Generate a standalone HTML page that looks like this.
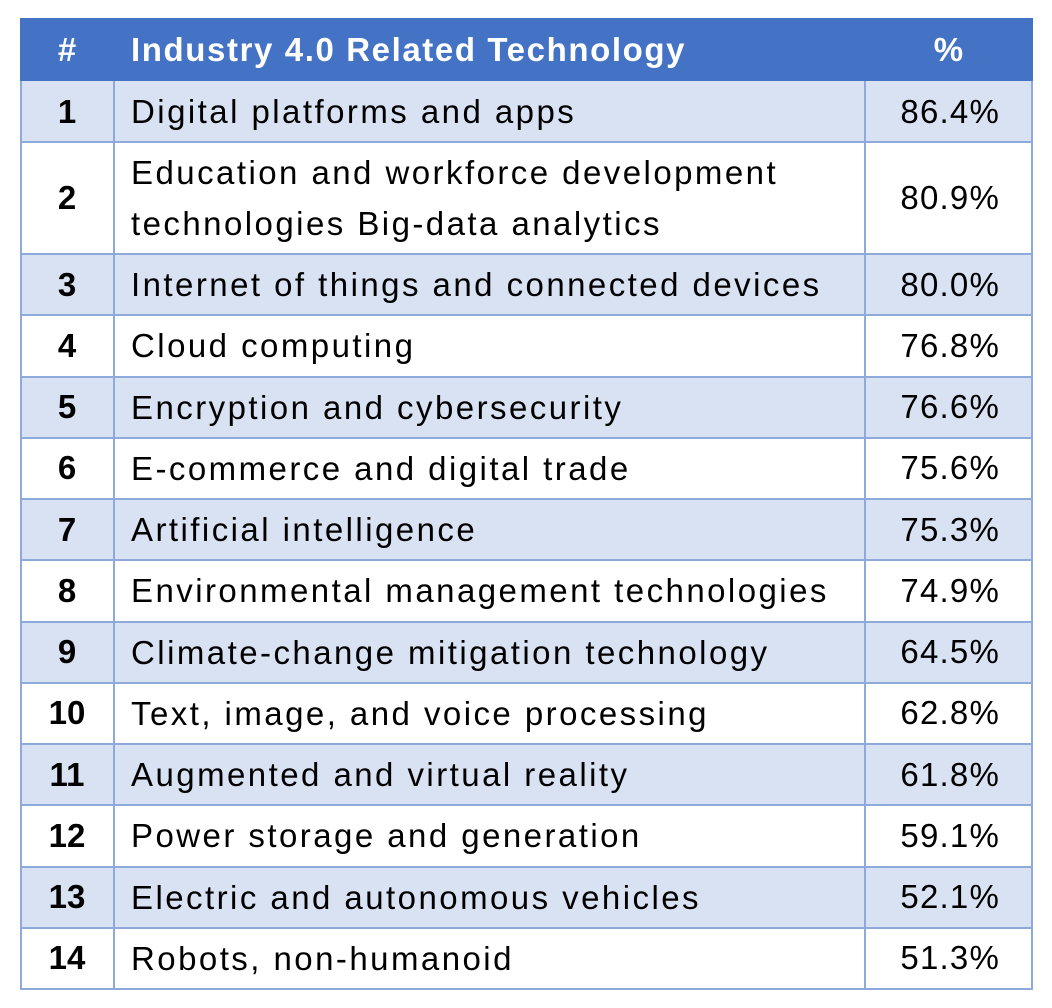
<!DOCTYPE html>
<html><head><meta charset="utf-8"><style>
body{margin:0;width:1052px;height:1008px;background:#fff;position:relative;font-family:"Liberation Sans",sans-serif;overflow:hidden}
.r{position:absolute;left:20px;width:1013px;box-sizing:border-box}
.c{position:absolute;top:0;bottom:0;display:flex;align-items:center;box-sizing:border-box;font-size:33px;color:#000;letter-spacing:2.45px}
.n{left:0;width:94px;justify-content:center;font-weight:bold;letter-spacing:0}
.t{left:94px;width:751px;padding-left:17px;line-height:51px;white-space:pre-line}
.p{left:845px;width:168px;justify-content:flex-end;padding-right:33px;letter-spacing:1.2px}
.band{background:#D9E2F3}
.hd{background:#4472C4}
.hd .c{color:#fff;font-weight:bold}
.hd .t{letter-spacing:1.6px}
.line{position:absolute;background:#8EAADB}
</style></head><body>
<div id="tbl"></div>
<script>
const ranks=[1,2,3,4,5,6,7,8,9,10,11,12,13,14];
const techs=["Digital platforms and apps","Education and workforce development\ntechnologies Big-data analytics","Internet of things and connected devices","Cloud computing","Encryption and cybersecurity","E-commerce and digital trade","Artificial intelligence","Environmental management technologies","Climate-change mitigation technology","Text, image, and voice processing","Augmented and virtual reality","Power storage and generation","Electric and autonomous vehicles","Robots, non-humanoid"];
const pcts=["86.4%","80.9%","80.0%","76.8%","76.6%","75.6%","75.3%","74.9%","64.5%","62.8%","61.8%","59.1%","52.1%","51.3%"];
const tbl=document.getElementById('tbl');
function mk(cls,top,h){const d=document.createElement('div');d.className='r '+cls;d.style.top=top+'px';d.style.height=h+'px';return d;}
function cell(row,cls,txt){const c=document.createElement('div');c.className='c '+cls;c.textContent=txt;row.appendChild(c);return c;}
const hdr=mk('hd',18,63);


cell(hdr,'n','#');
const ht=cell(hdr,'t','Industry 4.0 Related Technology');

const hp=cell(hdr,'p','%');hp.style.justifyContent='center';hp.style.paddingRight='0';

tbl.appendChild(hdr);
let y=81;const bottom=989;
const rest=(bottom-254)/12;
const lines=[];
for(let i=0;i<ranks.length;i++){
  const h=i===0?61:(i===1?112:rest);
  const row=mk(i%2===0?'band':'',y,h);
  
  
  const a=cell(row,'n',ranks[i]);
  const b=cell(row,'t',techs[i]);
  const c=cell(row,'p',pcts[i]);
  tbl.appendChild(row);
  y+=h;lines.push(y);
}
function ln(x,yy,w,h){const l=document.createElement('div');l.className='line';l.style.left=x+'px';l.style.top=yy+'px';l.style.width=w+'px';l.style.height=h+'px';


tbl.appendChild(l);}
ln(20,81,2,909);ln(1031,81,2,909);ln(113,81,2,909);ln(864,81,2,909);
lines.forEach(v=>ln(20,Math.round(v)-1,1013,2));
</script>
</body></html>
